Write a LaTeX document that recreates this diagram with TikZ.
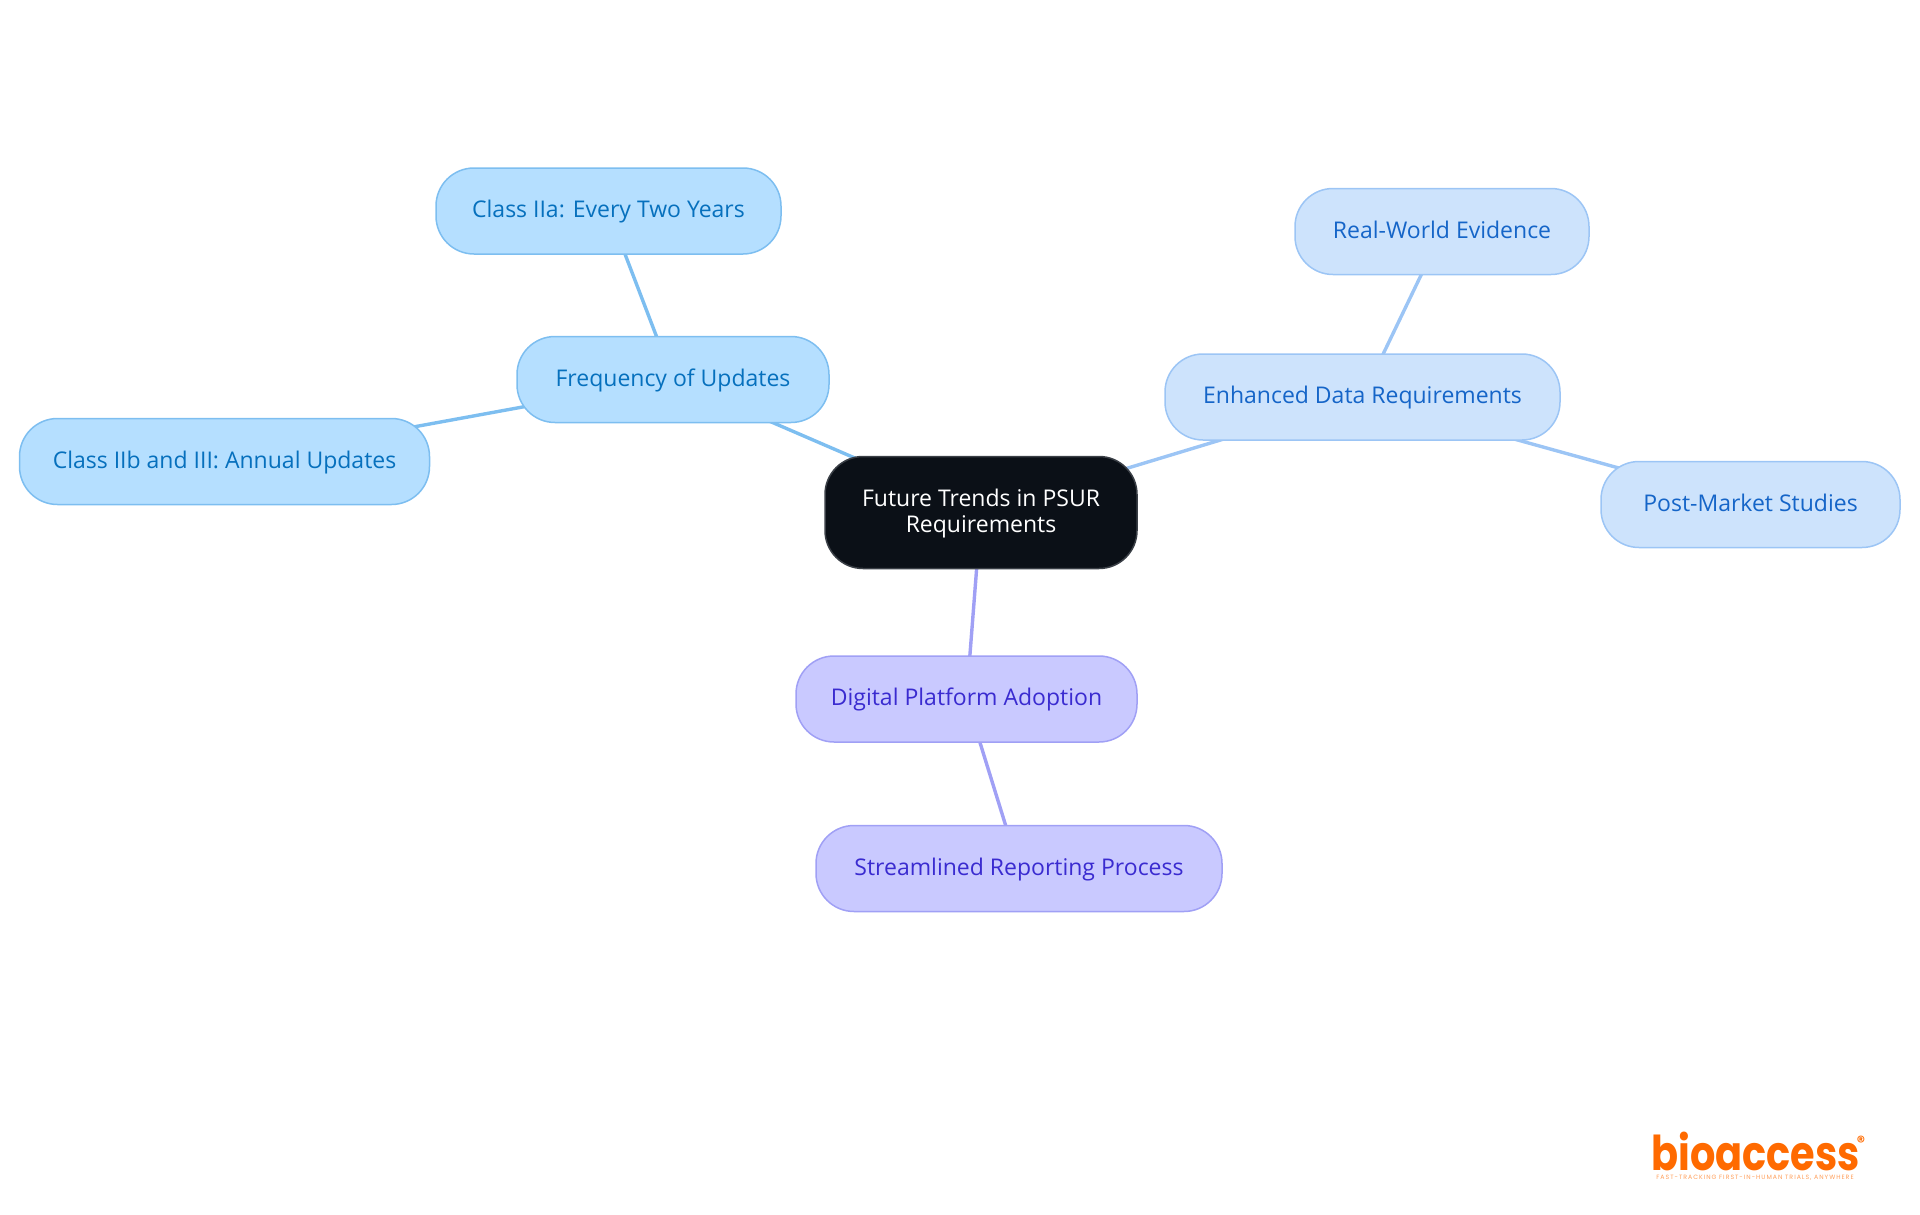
\documentclass[tikz,border=0pt]{standalone}
\usepackage{fontspec}
\usepackage{graphicx}
\setmainfont{Open Sans}
\newfontfamily\logofont{Poppins}
\newfontfamily\tagfont[LetterSpace=16]{Poppins}
\usetikzlibrary{backgrounds}
\definecolor{rootfill}{HTML}{0B1017}
\definecolor{rootedge}{HTML}{3A3F46}
\definecolor{bluefill}{HTML}{B5DFFF}
\definecolor{blueedge}{HTML}{7DBEF0}
\definecolor{bluetext}{HTML}{0670BD}
\definecolor{palefill}{HTML}{CDE3FC}
\definecolor{paleedge}{HTML}{9CC5F5}
\definecolor{paletext}{HTML}{1565C8}
\definecolor{violetfill}{HTML}{C9C9FF}
\definecolor{violetedge}{HTML}{A0A0F5}
\definecolor{violettext}{HTML}{3A2BD0}
\definecolor{logoorange}{HTML}{FF6A00}
\tikzset{
  box/.style={rounded corners=38pt,line width=1.5pt,inner sep=0pt,align=center,
    font=\fontsize{23}{26}\selectfont},
  onerow/.style={text height=18pt,text depth=5pt,minimum height=86pt},
  rootbox/.style={box,draw=rootedge,fill=rootfill,text=white},
  bluebox/.style={box,onerow,draw=blueedge,fill=bluefill,text=bluetext},
  palebox/.style={box,onerow,draw=paleedge,fill=palefill,text=paletext},
  violetbox/.style={box,onerow,draw=violetedge,fill=violetfill,text=violettext},
  bluelink/.style={draw=blueedge,line width=3.4pt},
  palelink/.style={draw=paleedge,line width=3.4pt},
  violetlink/.style={draw=violetedge,line width=3.4pt},
}
\begin{document}
\begin{tikzpicture}[x=1pt,y=-1pt]
\useasboundingbox (0,0) rectangle (1920,1215);
\node[rootbox,minimum width=312pt,minimum height=112pt] (root) at (981,512.5) {\rule{0pt}{19.5pt}Future Trends in PSUR\\Requirements};
\node[bluebox,minimum width=312pt] (freq) at (673,379.5) {Frequency of Updates};
\node[bluebox,minimum width=345pt] (iia) at (608.5,211) {Class IIa: Every Two Years};
\node[bluebox,minimum width=410pt] (iib) at (224.5,461.5) {Class IIb and III: Annual Updates};
\node[palebox,minimum width=395pt] (data) at (1362.5,397) {Enhanced Data Requirements};
\node[palebox,minimum width=294pt] (rwe) at (1442,231.5) {Real-World Evidence};
\node[palebox,minimum width=299pt] (pms) at (1750.5,504.5) {Post-Market Studies};
\node[violetbox,minimum width=341pt] (dig) at (966.5,699) {Digital Platform Adoption};
\node[violetbox,minimum width=406pt] (str) at (1019,868.5) {Streamlined Reporting Process};
\begin{pgfonlayer}{background}
\draw[bluelink] (root.center) -- (freq.center);
\draw[bluelink] (freq.center) -- (iia.center);
\draw[bluelink] (freq.center) -- (iib.center);
\draw[palelink] (root.center) -- (data.center);
\draw[palelink] (data.center) -- (rwe.center);
\draw[palelink] (data.center) -- (pms.center);
\draw[violetlink] (root.center) -- (dig.center);
\draw[violetlink] (dig.center) -- (str.center);
\end{pgfonlayer}
\node[text=logoorange,inner sep=0pt,anchor=base,font=\logofont\bfseries\fontsize{48}{48}\selectfont] (logo) at (1755.5,1170) {\scalebox{0.83}[1]{bioaccess}};
\node[text=logoorange,inner sep=0pt,font=\logofont\bfseries\fontsize{16}{16}\selectfont] (reg) at (1861,1142) {\textregistered};
\node[text=logoorange!65,inner sep=0pt,font=\tagfont\fontsize{6.2}{7}\selectfont] (tag) at (1755,1178) {FAST-TRACKING FIRST-IN-HUMAN TRIALS, ANYWHERE};
\end{tikzpicture}
\end{document}
